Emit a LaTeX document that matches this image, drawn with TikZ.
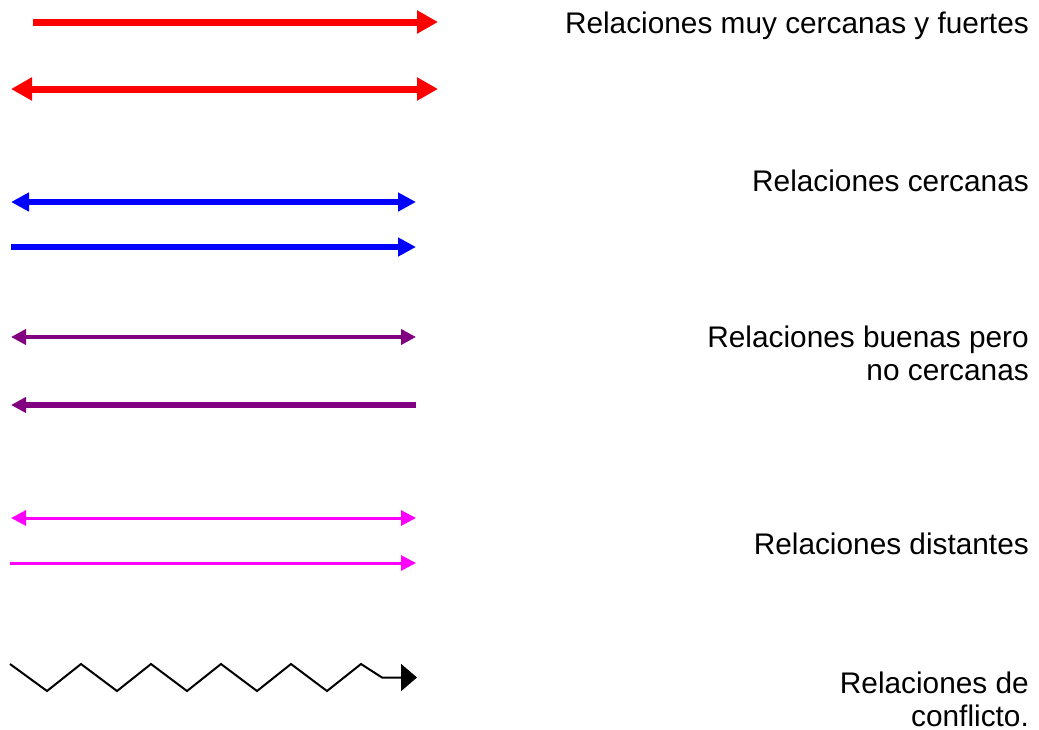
\documentclass[tikz,border=0pt]{standalone}
\usepackage{fontspec}
\setmainfont{Liberation Sans}
\usetikzlibrary{arrows.meta}
\definecolor{relred}{HTML}{FF0000}
\definecolor{relblue}{HTML}{0000FF}
\definecolor{relpurple}{HTML}{800080}
\definecolor{relmagenta}{HTML}{FF00FF}
\tikzset{
  label text/.style={font=\fontsize{29.8}{33}\selectfont, align=right, inner sep=0pt, anchor=base east},
  strong/.style={relred, line width=7pt},
  close/.style={relblue, line width=5.5pt},
  good/.style={relpurple, line width=4.5pt},
  distant/.style={relmagenta, line width=3pt},
  conflict/.style={black, line width=2pt, line join=miter},
  bigtip/.tip={Triangle[length=21pt,width=22pt]},
  midtip/.tip={Triangle[length=18pt,width=18pt]},
  smalltip/.tip={Triangle[length=15pt,width=15pt]},
  blacktip/.tip={Triangle[length=16pt,width=27pt]}
}
\begin{document}
\begin{tikzpicture}[x=1pt,y=-1pt]
  \useasboundingbox (0,0) rectangle (1039,729);

  % very close and strong relations
  \coordinate (r1a) at (33,22);  \coordinate (r1b) at (438,22);
  \coordinate (r2a) at (11,89);  \coordinate (r2b) at (438,89);
  \draw[strong, -bigtip] (r1a) -- (r1b);
  \draw[strong, bigtip-bigtip] (r2a) -- (r2b);
  \node[label text] (tstrong) at (1029,33) {Relaciones muy cercanas y fuertes};

  % close relations
  \coordinate (b1a) at (11,202); \coordinate (b1b) at (416,202);
  \coordinate (b2a) at (11,247); \coordinate (b2b) at (416,247);
  \draw[close, midtip-midtip] (b1a) -- (b1b);
  \draw[close, -midtip] (b2a) -- (b2b);
  \node[label text] (tclose) at (1029,191) {Relaciones cercanas};

  % good but not close relations (base anchor sits on the last line)
  \coordinate (p1a) at (11,337); \coordinate (p1b) at (416,337);
  \coordinate (p2a) at (11,405); \coordinate (p2b) at (416,405);
  \draw[good, line width=4pt, smalltip-smalltip] (p1a) -- (p1b);
  \draw[good, line width=5.5pt, smalltip-] (p2a) -- (p2b);
  \node[label text] (tgood) at (1029,380) {Relaciones buenas pero\\no cercanas};

  % distant relations
  \coordinate (m1a) at (11,518); \coordinate (m1b) at (416,518);
  \coordinate (m2a) at (10,563); \coordinate (m2b) at (416,563);
  \draw[distant, smalltip-smalltip] (m1a) -- (m1b);
  \draw[distant, -smalltip] (m2a) -- (m2b);
  \node[label text] (tdistant) at (1029,554) {Relaciones distantes};

  % conflict
  \coordinate (z0) at (10,664);
  \coordinate (zend) at (417,677.5);
  \draw[conflict, -blacktip] (z0) -- (47,691) -- (81,664) -- (117,691) -- (151,664)
    -- (187,691) -- (221,664) -- (257,691) -- (291,664) -- (327,691) -- (361,664)
    -- (382,677.5) -- (zend);
  \node[label text, text depth=0pt] (tconflict) at (1029,726) {Relaciones de\\conflicto.};
\end{tikzpicture}
\end{document}
